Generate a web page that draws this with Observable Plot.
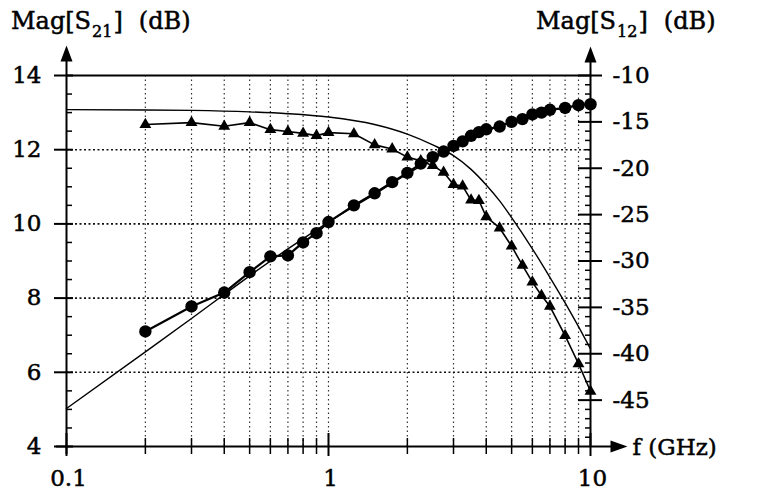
<!DOCTYPE html>
<html><head><meta charset="utf-8">
<script src="https://cdn.jsdelivr.net/npm/d3@7"></script>
<script src="https://cdn.jsdelivr.net/npm/@observablehq/plot@0.6"></script>
<style>
body{margin:0;background:#fff;}
#wrap{position:relative;width:770px;height:494px;}
.t{position:absolute;font-family:"DejaVu Serif";font-size:24px;line-height:24px;color:#000;white-space:nowrap;-webkit-text-stroke:0.5px #000;}
.t .sub{font-size:16px;position:relative;top:8px;margin:0 1px;}
.t .u{margin-left:16px;}
</style></head><body><div id="wrap">
<div class="t" style="left:11px;top:9px">Mag[S<span class="sub">21</span>]<span class="u">(dB)</span></div>
<div class="t" style="left:536px;top:9px">Mag[S<span class="sub">12</span>]<span class="u">(dB)</span></div>
</div>
<script>
// measured S21 (triangles, left axis, dB)
const triF   = [0.2,0.3,0.4,0.5,0.6,0.7,0.8,0.9,1.0,1.25,1.5,1.75,2.0,2.25,2.5,2.75,3.0,3.25,3.5,3.75,4.0,4.5,5.0,5.5,6.0,6.5,7.0,8.0,9.0,10];
const triS21 = [12.68,12.73,12.63,12.73,12.54,12.49,12.44,12.38,12.46,12.43,12.13,12.02,11.80,11.70,11.57,11.39,11.06,11.02,10.64,10.63,10.19,9.89,9.40,8.88,8.43,8.07,7.78,6.99,6.23,5.49];
// measured S12 (circles, right axis, dB)
const cirF   = [0.2,0.3,0.4,0.5,0.6,0.7,0.8,0.9,1.0,1.25,1.5,1.75,2.0,2.25,2.5,2.75,3.0,3.25,3.5,3.75,4.0,4.5,5.0,5.5,6.0,6.5,7.0,8.0,9.0,10];
const cirS12 = [-37.6,-34.9,-33.4,-31.2,-29.5,-29.4,-28.0,-27.0,-25.8,-24.0,-22.7,-21.5,-20.5,-19.5,-18.8,-18.2,-17.6,-17.1,-16.5,-16.1,-15.8,-15.5,-15.0,-14.7,-14.2,-14.0,-13.7,-13.5,-13.2,-13.1];
// model S21 (thin line, left axis)
const modS21F = [0.1,0.2,0.3,0.5,0.7,1.0,1.5,2.0,2.5,3.0,3.5,4.0,4.5,5.0,6.0,7.0,8.0,9.0,10];
const modS21  = [13.08,13.07,13.06,13.02,12.97,12.88,12.68,12.42,12.13,11.84,11.47,11.05,10.62,10.17,9.33,8.56,7.87,7.23,6.63];
// model S12 (thin line, right axis)
const modS12F = [0.1,0.2,0.3,0.4,0.5,0.7,1.0,1.5,2.0,3.0,4.0,5.0,7.0,10];
const modS12  = [-45.9,-39.8,-36.2,-33.6,-31.6,-28.7,-25.8,-22.8,-20.6,-17.8,-16.0,-15.0,-13.8,-13.0];

const leftTicks  = [4,6,8,10,12,14];
const leftMinor  = [4.5,5,5.5,6.5,7,7.5,8.5,9,9.5,10.5,11,11.5,12.5,13,13.5];
const rightTicks = [-45,-40,-35,-30,-25,-20,-15,-10];
const rightMinor = [-49,-48,-47,-46,-44,-43,-42,-41,-39,-38,-37,-36,-34,-33,-32,-31,-29,-28,-27,-26,-24,-23,-22,-21,-19,-18,-17,-16,-14,-13,-12,-11];
const xLabels    = [0.1,1,10];
const xMinor     = [0.2,0.3,0.4,0.5,0.6,0.7,0.8,0.9,2,3,4,5,6,7,8,9];
const xGrid      = [0.2,0.3,0.4,0.5,0.6,0.7,0.8,0.9,1,2,3,4,5,6,7,8,9];
const yGrid      = [6,8,10,12];

// right axis (S12) maps onto left axis (S21): -50..-10 <-> 4..14
const toLeft = r => 4 + (r + 50) / 4;

const tri = triF.map((f, i) => ({f, v: triS21[i]}));
const cir = cirF.map((f, i) => ({f, v: cirS12[i]}));
const m21 = modS21F.map((f, i) => ({f, v: modS21[i]}));
const m12 = modS12F.map((f, i) => ({f, v: modS12[i]}));

const arrowUp = {draw(ctx){ctx.moveTo(0,-8);ctx.lineTo(6,8);ctx.lineTo(-6,8);ctx.closePath();}};
const arrowRight = {draw(ctx){ctx.moveTo(9,0);ctx.lineTo(-8,6);ctx.lineTo(-8,-6);ctx.closePath();}};

const FW = 524, FH = 371;
const lbl = {fontSize: 23, fill: "#000", stroke: "#000", strokeWidth: 0.5};
const chart = Plot.plot({
  width: 770, height: 494,
  marginLeft: 66, marginRight: 180, marginTop: 75, marginBottom: 48,
  x: {type: "log", domain: [0.1, 10], axis: null},
  y: {domain: [4, 14], axis: null},
  style: {fontFamily: "DejaVu Serif", fontSize: "22px", color: "#000", background: "#fff", overflow: "visible"},
  marks: [
    Plot.ruleX(xGrid, {x: d => d, stroke: "#333", strokeWidth: 1.2, strokeDasharray: "1.5,3"}),
    Plot.ruleY(yGrid, {y: d => d, stroke: "#111", strokeWidth: 1.6, strokeDasharray: "2,2.5"}),
    Plot.ruleY([14], {y: d => d, stroke: "#000", strokeWidth: 2}),
    Plot.ruleY([4], {y: d => d, stroke: "#000", strokeWidth: 2, insetLeft: -10, insetRight: -22}),
    Plot.ruleX([0.1], {x: d => d, stroke: "#000", strokeWidth: 2, insetTop: -18, insetBottom: -8}),
    Plot.ruleX([10], {x: d => d, stroke: "#000", strokeWidth: 2, insetTop: -18}),
    // left axis ticks
    Plot.tickY(leftTicks, {y: d => d, stroke: "#000", strokeWidth: 2, insetLeft: -12, insetRight: FW - 7}),
    Plot.tickY(leftMinor, {y: d => d, stroke: "#000", strokeWidth: 1.5, insetLeft: 0, insetRight: FW - 6}),
    // right axis ticks
    Plot.tickY(rightTicks, {y: d => toLeft(d), stroke: "#000", strokeWidth: 2, insetLeft: FW - 12, insetRight: -12}),
    Plot.tickY(rightMinor, {y: d => toLeft(d), stroke: "#000", strokeWidth: 1.5, insetLeft: FW - 5, insetRight: 0}),
    // x ticks
    Plot.tickX(xMinor, {x: d => d, stroke: "#000", strokeWidth: 1.5, insetTop: FH - 8, insetBottom: -8}),
    Plot.tickX(xLabels, {x: d => d, stroke: "#000", strokeWidth: 2, insetTop: FH - 13, insetBottom: -10}),
    // arrows
    Plot.dot([{f: 0.1, v: 14}], {x: "f", y: "v", symbol: arrowUp, fill: "#000", stroke: "none", dy: -22}),
    Plot.dot([{f: 10, v: 14}], {x: "f", y: "v", symbol: arrowUp, fill: "#000", stroke: "none", dy: -21}),
    Plot.dot([{f: 10, v: 4}], {x: "f", y: "v", symbol: arrowRight, fill: "#000", stroke: "none", dx: 28}),
    // tick labels
    Plot.text(leftTicks, {y: d => d, text: d => String(d), frameAnchor: "left", dx: -25, textAnchor: "end", lineAnchor: "middle", ...lbl}),
    Plot.text(rightTicks, {y: d => toLeft(d), text: d => String(d), frameAnchor: "right", dx: 22, textAnchor: "start", lineAnchor: "middle", ...lbl}),
    Plot.text(xLabels, {x: d => d, text: d => String(d), frameAnchor: "bottom", dx: 2, dy: 32, lineAnchor: "middle", ...lbl}),
    Plot.text(["f (GHz)"], {frameAnchor: "bottom-right", text: d => d, dx: 42, dy: 1, textAnchor: "start", lineAnchor: "middle", ...lbl}),
    // model curves
    Plot.line(m21, {x: "f", y: "v", curve: "monotone-x", stroke: "#000", strokeWidth: 1.4}),
    Plot.line(m12, {x: "f", y: d => toLeft(d.v), curve: "monotone-x", stroke: "#000", strokeWidth: 1.4}),
    // measured S21 triangles
    Plot.line(tri, {x: "f", y: "v", stroke: "#000", strokeWidth: 1.6}),
    Plot.dot(tri, {x: "f", y: "v", symbol: "triangle", r: 4.4, fill: "#000", stroke: "none"}),
    // measured S12 circles
    Plot.line(cir, {x: "f", y: d => toLeft(d.v), stroke: "#000", strokeWidth: 2.2}),
    Plot.dot(cir, {x: "f", y: d => toLeft(d.v), r: 6.2, fill: "#000", stroke: "none"})
  ]
});
document.getElementById("wrap").appendChild(chart);
</script>
</body></html>
